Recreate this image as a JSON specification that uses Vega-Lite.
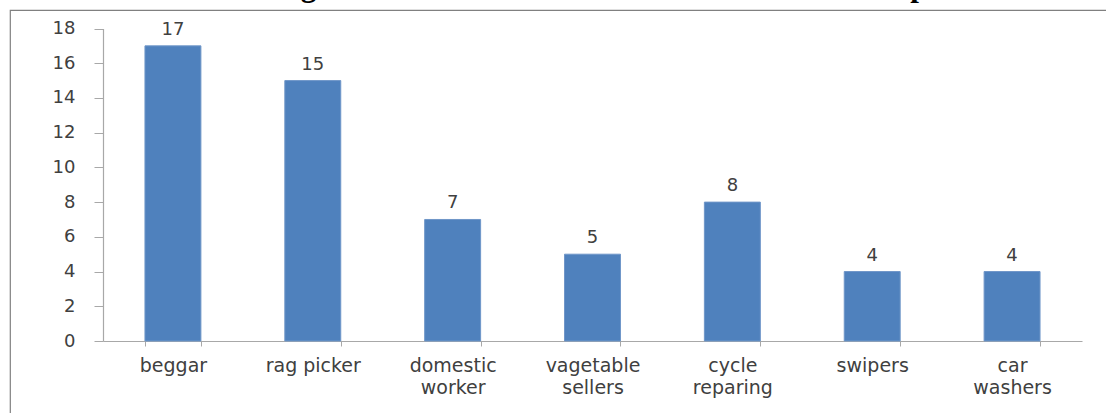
{
  "$schema": "https://vega.github.io/schema/vega-lite/v6.json",
  "autosize": {"type": "none"},
  "padding": {"left": 10, "top": 10, "right": 0, "bottom": 0},
  "width": 1097,
  "height": 404,
  "background": "white",
  "title": {
    "text": "Percentage of child Labours falls under Different Occupation",
    "font": "Liberation Serif",
    "fontSize": 31,
    "fontWeight": "bold",
    "color": "black",
    "anchor": "middle",
    "frame": "group",
    "baseline": "alphabetic",
    "offset": 0,
    "dy": 17,
    "dx": 31
  },
  "config": {
    "view": {"stroke": "#808080", "strokeWidth": 1.2},
    "axis": {"grid": false}
  },
  "data": {
    "values": [
      {"occupation": "beggar", "percent": 17},
      {"occupation": "rag picker", "percent": 15},
      {"occupation": "domestic worker", "percent": 7},
      {"occupation": "vagetable sellers", "percent": 5},
      {"occupation": "cycle reparing", "percent": 8},
      {"occupation": "swipers", "percent": 4},
      {"occupation": "car washers", "percent": 4}
    ]
  },
  "encoding": {
    "x": {
      "field": "occupation",
      "type": "nominal",
      "sort": null,
      "scale": {"range": [93, 1072], "paddingInner": 0.6, "paddingOuter": 0.3},
      "axis": {
        "title": null,
        "orient": "bottom",
        "offset": -73,
        "labelAngle": 0,
        "labelFont": "DejaVu Sans",
        "labelFontSize": 19,
        "labelColor": "#404040",
        "labelPadding": 10,
        "labelLineHeight": 22,
        "labelBaseline": "top",
        "labelExpr": "datum.label == 'rag picker' ? datum.label : split(datum.label, ' ')",
        "tickBand": "extent",
        "tickSize": 5,
        "tickColor": "#a8a8a8",
        "domainColor": "#a8a8a8",
        "domainWidth": 1.2
      }
    },
    "y": {
      "field": "percent",
      "type": "quantitative",
      "scale": {"domain": [0, 18], "nice": false, "range": [331, 18.5]},
      "axis": {
        "title": null,
        "orient": "left",
        "offset": -93,
        "values": [0, 2, 4, 6, 8, 10, 12, 14, 16, 18],
        "labelFont": "DejaVu Sans",
        "labelFontSize": 18,
        "labelColor": "#404040",
        "labelPadding": 19,
        "tickSize": 9,
        "tickColor": "#a8a8a8",
        "domainColor": "#a8a8a8",
        "domainWidth": 1.2
      }
    }
  },
  "layer": [
    {"mark": {"type": "bar", "color": "#4F81BD", "stroke": "#6f96c8", "strokeWidth": 1}},
    {
      "mark": {
        "type": "text",
        "baseline": "alphabetic",
        "dy": -11,
        "font": "DejaVu Sans",
        "fontSize": 18,
        "color": "#404040"
      },
      "encoding": {"text": {"field": "percent", "type": "quantitative"}}
    }
  ]
}
